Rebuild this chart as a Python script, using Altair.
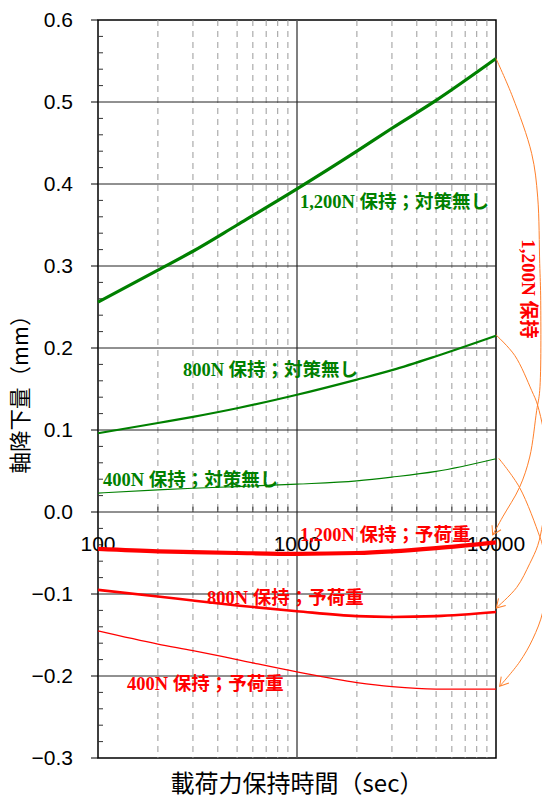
import altair as alt
import pandas as pd

# ---- data ----
times = [100, 200, 300, 500, 1000, 2000, 3000, 5000, 10000]
g1200 = [0.256, 0.295, 0.318, 0.350, 0.394, 0.440, 0.468, 0.502, 0.553]
g800 = [0.096, 0.1085, 0.116, 0.1265, 0.143, 0.1615, 0.173, 0.190, 0.215]
g400 = [0.023, 0.027, 0.029, 0.031, 0.034, 0.038, 0.0425, 0.0495, 0.065]
r1200 = [-0.045, -0.048, -0.049, -0.050, -0.051, -0.050, -0.048, -0.044, -0.037]
r800 = [-0.095, -0.103, -0.108, -0.114, -0.121, -0.127, -0.128, -0.127, -0.122]
r400 = [-0.145, -0.161, -0.169, -0.180, -0.195, -0.208, -0.213, -0.216, -0.216]

label_texts = ["1,200N 保持；対策無し", "800N 保持；対策無し", "400N 保持；対策無し",
               "1,200N 保持；予荷重", "800N 保持；予荷重", "400N 保持；予荷重"]
label_groups = ["g", "g", "g", "r", "r", "r"]
label_x = [1035, 267, 106, 1035, 353, 140]
label_y = [0.378, 0.173, 0.039, -0.028, -0.105, -0.210]

side_texts = ["1,200N 保持", "800N 保持"]
side_x = [14430, 20000]
side_y = [0.272, -0.102]

# orange arrows (curves from the no-measure end to the preload end)
arc1_x = [10000, 12131, 15116, 16200, 16584, 16775, 16584, 16015, 14770, 13127, 10806, 9625]
arc1_y = [0.553, 0.506, 0.437, 0.384, 0.303, 0.258, 0.148, 0.124, 0.067, 0.030, -0.006, -0.028]
arc2_x = [10000, 12416, 15116, 16200, 18190, 18190, 17170, 16200, 14770, 12706, 10036]
arc2_y = [0.216, 0.191, 0.148, 0.130, 0.067, 0.027, -0.014, -0.041, -0.063, -0.092, -0.117]
arc3_x = [10318, 13127, 16584, 17170, 17775, 17170, 15293, 13127, 10437]
arc3_y = [0.0655, 0.030, -0.030, -0.042, -0.082, -0.122, -0.155, -0.183, -0.2125]
tip_x = [9625, 10036, 10437]
tip_y = [-0.028, -0.117, -0.2125]
tip_angle = [27, 44, 40]

# ticks
y_major = [-0.3, -0.2, -0.1, 0.0, 0.1, 0.2, 0.3, 0.4, 0.5, 0.6]
y_tick_labels = ["−0.3", "−0.2", "−0.1", "0.0", "0.1", "0.2", "0.3", "0.4", "0.5", "0.6"]
y_grid = [-0.2, -0.1, 0.0, 0.1, 0.2, 0.3, 0.4, 0.5]
y_minor = [-0.28, -0.26, -0.24, -0.22, -0.18, -0.16, -0.14, -0.12, -0.08, -0.06, -0.04, -0.02,
           0.02, 0.04, 0.06, 0.08, 0.12, 0.14, 0.16, 0.18, 0.22, 0.24, 0.26, 0.28,
           0.32, 0.34, 0.36, 0.38, 0.42, 0.44, 0.46, 0.48, 0.52, 0.54, 0.56, 0.58]
x_major = [100, 1000, 10000]
x_tick_labels = ["100", "1000", "10000"]
x_minor = [200, 300, 400, 500, 600, 700, 800, 900, 2000, 3000, 4000, 5000, 6000, 7000, 8000, 9000]

x_title = "載荷力保持時間（sec）"
y_title = "軸降下量（mm）"

GREEN = "#008000"
RED = "#ff0000"
ORANGE = "#ff7f2a"
LABEL_FONT = "Liberation Serif, Noto Sans CJK JP, serif"
AXIS_FONT = "Liberation Sans, Arial, sans-serif"
CJK_FONT = "Noto Sans CJK JP"

xs = alt.Scale(type="log", domain=[100, 10000], nice=False)
ys = alt.Scale(domain=[-0.3, 0.6], nice=False)


def X(f="t"):
    return alt.X(f + ":Q", scale=xs, axis=None)


def Y(f="v"):
    return alt.Y(f + ":Q", scale=ys, axis=None)


layers = []

# grid lines
layers.append(alt.Chart(pd.DataFrame({"t": x_minor})).mark_rule(
    color="#9a9a9a", strokeWidth=1, strokeDash=[6, 5]).encode(x=X()))
layers.append(alt.Chart(pd.DataFrame({"t": [1000]})).mark_rule(
    color="#555555", strokeWidth=1.5).encode(x=X()))
layers.append(alt.Chart(pd.DataFrame({"v": y_grid})).mark_rule(
    color="#222222", strokeWidth=1).encode(y=Y()))

# y ticks (major outward, minor inward)
layers.append(alt.Chart(pd.DataFrame({"v": y_major})).mark_rule(
    color="black", strokeWidth=1).encode(y=Y(), x=alt.value(-7), x2=alt.value(0)))
layers.append(alt.Chart(pd.DataFrame({"v": y_minor})).mark_rule(
    color="#333333", strokeWidth=1).encode(y=Y(), x=alt.value(0), x2=alt.value(5)))
# x minor ticks on the zero line
xmin_df = pd.DataFrame({"t": x_minor, "v": [0.0] * len(x_minor), "v2": [0.0065] * len(x_minor)})
layers.append(alt.Chart(xmin_df).mark_rule(color="#333333", strokeWidth=1).encode(
    x=X(), y=Y(), y2="v2:Q"))

# tick labels
layers.append(alt.Chart(pd.DataFrame({"v": y_major, "txt": y_tick_labels})).mark_text(
    align="right", baseline="middle", font=AXIS_FONT, fontSize=21, color="black", dy=1).encode(
    y=Y(), x=alt.value(-25), text="txt:N"))
xl_df = pd.DataFrame({"t": x_major, "v": [0.0] * 3, "txt": x_tick_labels})
layers.append(alt.Chart(xl_df).mark_text(
    align="center", baseline="middle", font=AXIS_FONT, fontSize=21, color="black", dy=33).encode(
    x=X(), y=Y(), text="txt:N"))

# series
names = ["g1200", "g800", "g400", "r1200", "r800", "r400"]
vals_all = [g1200, g800, g400, r1200, r800, r400]
styles = {"g1200": (GREEN, 3.2), "g800": (GREEN, 2.2), "g400": (GREEN, 1.1),
          "r1200": (RED, 4.2), "r800": (RED, 2.6), "r400": (RED, 1.3)}
for nm, vals in zip(names, vals_all):
    col, w = styles[nm]
    layers.append(alt.Chart(pd.DataFrame({"t": times, "v": vals})).mark_line(
        color=col, strokeWidth=w, interpolate="monotone").encode(x=X(), y=Y()))

# arrows
arc_rows = []
for k, (ax, ay) in enumerate([(arc1_x, arc1_y), (arc2_x, arc2_y), (arc3_x, arc3_y)]):
    for i, (a, b) in enumerate(zip(ax, ay)):
        arc_rows.append({"t": a, "v": b, "arc": k, "o": i})
layers.append(alt.Chart(pd.DataFrame(arc_rows)).mark_line(
    color=ORANGE, strokeWidth=1, interpolate="catmull-rom").encode(
    x=X(), y=Y(), detail="arc:N", order="o:Q"))
tips = pd.DataFrame({"t": tip_x, "v": tip_y, "a": tip_angle})
layers.append(alt.Chart(tips).mark_point(
    shape="M -0.515 -0.857 L 0 0 L 0.515 -0.857", filled=False,
    color=ORANGE, strokeWidth=1, size=380, opacity=1).encode(
    x=X(), y=Y(), angle=alt.Angle("a:Q", scale=None)))

# labels
lab_df = pd.DataFrame({"t": label_x, "v": label_y, "txt": label_texts, "grp": label_groups})
layers.append(alt.Chart(lab_df).mark_text(
    align="left", baseline="middle", font=LABEL_FONT, fontSize=18.5,
    fontWeight="bold").encode(
    x=X(), y=Y(), text="txt:N",
    color=alt.Color("grp:N", scale=alt.Scale(domain=["g", "r"], range=[GREEN, RED]),
                    legend=None)))
side = pd.DataFrame({"t": side_x, "v": side_y, "txt": side_texts})
layers.append(alt.Chart(side).mark_text(
    align="center", baseline="middle", font=LABEL_FONT, fontSize=19,
    fontWeight="bold", color=RED, angle=90).encode(x=X(), y=Y(), text="txt:N"))

# axis titles
layers.append(alt.Chart(pd.DataFrame({"txt": [y_title]})).mark_text(
    align="center", baseline="middle", font=CJK_FONT, fontSize=21.5, color="black",
    angle=270).encode(x=alt.value(-76), y=alt.value(369), text="txt:N"))
layers.append(alt.Chart(pd.DataFrame({"txt": [x_title]})).mark_text(
    align="center", baseline="middle", font=CJK_FONT, fontSize=24, color="black").encode(
    x=alt.value(199), y=alt.value(765), text="txt:N"))

chart = alt.layer(*layers).properties(
    width=398, height=738,
    padding={"left": 90, "top": 12, "right": 46, "bottom": 41},
    autosize=alt.AutoSizeParams(type="none"),
    background="white",
).configure_view(stroke="black", strokeWidth=1.5)

chart.save("out.html", embed_options={"renderer": "svg", "actions": False})
